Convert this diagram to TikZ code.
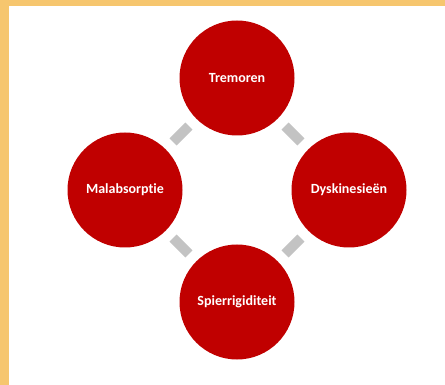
\documentclass[tikz,border=0pt]{standalone}
\usepackage{fontspec}
\setmainfont[Ligatures=NoCommon]{Carlito}
\definecolor{borderyellow}{HTML}{F6C66E}
\definecolor{circred}{HTML}{C00000}
\definecolor{bargray}{HTML}{C3C3C3}
\begin{document}
\begin{tikzpicture}[x=1pt,y=-1pt,
  bubble/.style={circle,fill=circred,draw=none,minimum size=115pt,inner sep=0pt,outer sep=0pt,
    text=white,font=\fontsize{14}{16}\selectfont\bfseries},
  bar/.style={draw=bargray,line width=10pt,line cap=butt,shorten <=68pt,shorten >=68pt}]
\useasboundingbox (0,0) rectangle (445,385);
\fill[borderyellow] (0,0) rectangle (445,385);
\fill[white] (9,6) rectangle (445,385);
\node[bubble] (top) at (237,78) {Tremoren};
\node[bubble] (left) at (125,190) {Malabsorptie};
\node[bubble] (right) at (349,190) {Dyskinesieën};
\node[bubble] (bottom) at (237,302) {Spierrigiditeit};
\draw[bar] (left.center) -- (top.center);
\draw[bar] (top.center) -- (right.center);
\draw[bar] (right.center) -- (bottom.center);
\draw[bar] (bottom.center) -- (left.center);
\end{tikzpicture}
\end{document}
